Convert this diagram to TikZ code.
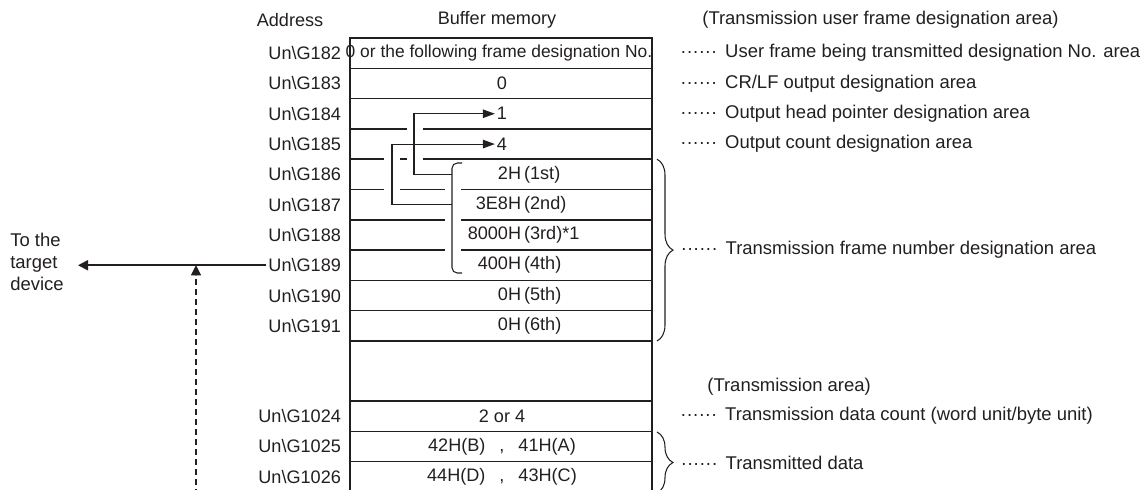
\documentclass[tikz,border=0pt]{standalone}
\usepackage{fontspec}
\setmainfont{Liberation Sans}
\usetikzlibrary{arrows.meta,positioning,decorations.pathreplacing}
\definecolor{ink}{HTML}{231F20}
\newcommand{\ord}[2]{\llap{#1\,}(#2)}
\newcommand{\leaddots}{······\hspace{1.6mm}}

\begin{document}
\begin{tikzpicture}[x=0.2mm, y=-0.2mm, every node/.style={font=\fontsize{10.3}{12.4}\selectfont, text=ink}, addr/.style={anchor=east, inner sep=1pt}, val/.style={inner sep=1pt}, note/.style={anchor=west, inner sep=0pt, font=\fontsize{10.5}{12.6}\selectfont}, rule/.style={draw=ink, line width=0.8pt}, ptr/.style={-{Triangle[length=2.4mm,width=1.7mm]}, ink, line width=0.6pt}, arr/.style={-{Triangle[length=2mm,width=2mm]}, ink, line width=1pt}]
\useasboundingbox (0,0) rectangle (1143,490);
% headings
\node (haddr) at (290,20) {Address};
\node (hbuf) at (497,20) {Buffer memory};
\node[note] (huser) at (702,20) {(Transmission user frame designation area)};
\node[note] (hsend) at (707,387) {(Transmission area)};
% addresses
\foreach \n in {182,...,191}
  \node[addr] (a\n) at (343,{53.15+30.3*(\n-182)}) {Un\textbackslash G\n};
\node[addr] (a1024) at (343,416.15) {Un\textbackslash G1024};
\node[addr] (a1025) at (343,446.45) {Un\textbackslash G1025};
\node[addr] (a1026) at (343,476.75) {Un\textbackslash G1026};
% buffer memory table
\draw[rule] (350,495) -- (350,38) -- (652,38) -- (652,495);
\foreach \y in {68.3,98.6,280.4,310.7,341,401,431.3,461.6}
  \draw[rule] (350,\y) -- (652,\y);
\draw[rule] (350,128.9) -- (407,128.9) (423,128.9) -- (652,128.9);
\draw[rule] (350,159.2) -- (384,159.2) (400,159.2) -- (407,159.2) (423,159.2) -- (652,159.2);
\draw[rule] (350,189.5) -- (384,189.5) (400,189.5) -- (445,189.5) (461,189.5) -- (652,189.5);
\foreach \y in {219.8,250.1}
  \draw[rule] (350,\y) -- (445,\y) (461,\y) -- (652,\y);
% contents
\node[val, font=\fontsize{9.9}{12}\selectfont] (v182) at (499,53.15) {0 or the following frame designation No.};
\node[val] (v183) at (502,83.45) {0};
\node[val] (v184) at (502,113.75) {1};
\node[val] (v185) at (502,144.05) {4};
\foreach \n/\h/\o in {186/2H/1st,187/3E8H/2nd,189/400H/4th,190/0H/5th,191/0H/6th}
  \node[val, anchor=west] (v\n) at (522,{53.15+30.3*(\n-182)}) {\ord{\h}{\o}};
\node[val, anchor=west] (v188) at (522,234.95) {\ord{8000H}{3rd}*1};
\node[val] (v1024) at (502,416.15) {2 or 4};
\node[val] (v1025) at (502,446.45) {42H(B)\hspace{2.8mm},\hspace{2.8mm}41H(A)};
\node[val] (v1026) at (502,476.75) {44H(D)\hspace{2.8mm},\hspace{2.8mm}43H(C)};
% pointers
\draw[ink, line width=0.6pt, rounded corners=3pt] (462,163) -- (452,163) -- (452,273) -- (462,273);
\coordinate (b186) at (452,174.35);
\coordinate (b187) at (452,204.65);
\draw[ptr] (b186) -- ++(-38,0) |- (v184.west);
\draw[ptr] (b187) -- ++(-60,0) |- (v185.west);
% notes
\node[note] (n182) at (680,53.15) {\leaddots User frame being transmitted designation No. area};
\node[note] (n183) at (680,83.45) {\leaddots CR/LF output designation area};
\node[note] (n184) at (680,113.75) {\leaddots Output head pointer designation area};
\node[note] (n185) at (680,144.05) {\leaddots Output count designation area};
\draw[rule, line width=0.6pt, decorate, decoration={brace, amplitude=3.2mm}] (657,159.2) -- (657,341);
\coordinate (t186) at (673,250.1);
\node[note, xshift=1.5mm] (n186) at (t186) {\leaddots Transmission frame number designation area};
\node[note] (n1024) at (680,416.15) {\leaddots Transmission data count (word unit/byte unit)};
\draw[rule, line width=0.6pt, decorate, decoration={brace, amplitude=3.2mm}] (657,432) -- (657,493);
\coordinate (t1025) at (673,462.5);
\node[note, xshift=1.5mm] (n1025) at (t1025) {\leaddots Transmitted data};
% target device
\node[note, align=left] (dev) at (10,262) {To the\\target\\device};
\coordinate (tgt) at (78,265.25);
\draw[arr] (a189.west) -- (tgt);
\coordinate (src) at (196,495);
\draw[arr, line width=0.6pt, dash pattern=on 1.2mm off 0.8mm] (src) -- (src |- tgt);
\end{tikzpicture}
\end{document}
